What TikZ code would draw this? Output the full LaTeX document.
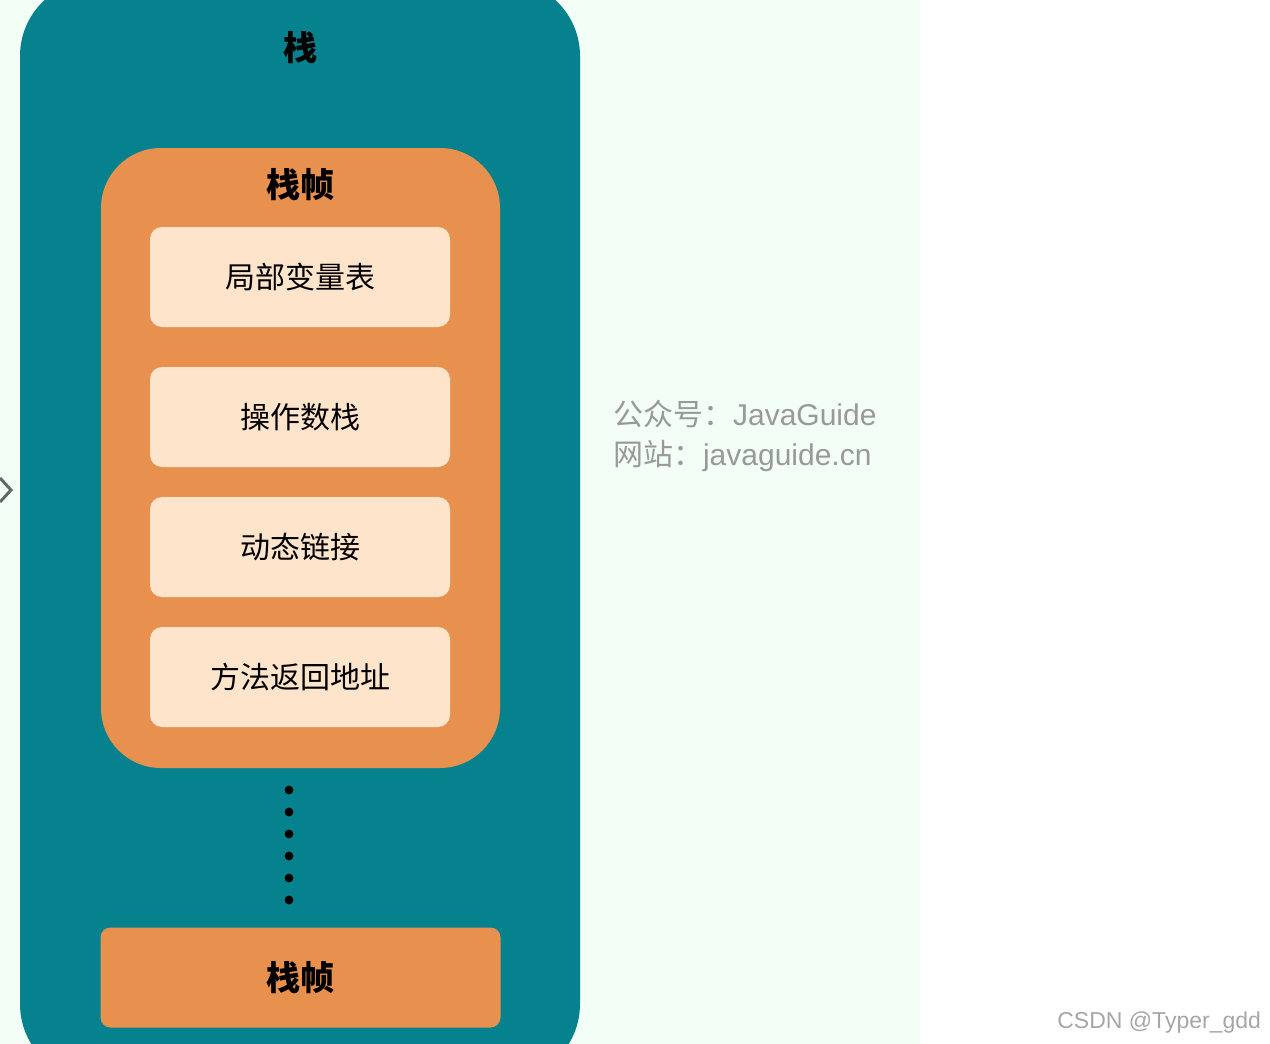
\documentclass[tikz,border=0pt]{standalone}
\usepackage{fontspec}
\setmainfont{Liberation Sans}
\newfontfamily\cjk{Noto Sans CJK SC}
\definecolor{stackteal}{HTML}{05828E}
\definecolor{frameorange}{HTML}{E8914F}
\definecolor{slotcream}{HTML}{FFE4CC}
\definecolor{mintbg}{HTML}{F3FFF6}
\begin{document}
\begin{tikzpicture}[
    x=0.5pt,y=-0.5pt,
    % styles
    slot/.style={fill=slotcream,rounded corners=6pt,minimum width=150pt,minimum height=50pt,inner sep=0pt,font=\cjk\fontsize{15}{15}\selectfont},
    frame title/.style={font=\cjk\bfseries\fontsize{17}{17}\selectfont},
    watermark/.style={text=black!40,font=\fontsize{15}{20}\selectfont,align=left,anchor=west}
]
    \useasboundingbox (0,0) rectangle (1270,1044);
    \fill[mintbg] (0,0) rectangle (920,1044);

    % stack
    \begin{scope}
        \clip (0,0) rectangle (1270,1044);
        \fill[stackteal,rounded corners=38pt] (20,-20) rectangle (580,1080);
    \end{scope}
    \node[frame title] (stack) at (300,48) {栈};

    % frame
    \fill[frameorange,rounded corners=30pt] (101,148) rectangle (500,768);
    \node[frame title] (frame) at (300,185) {栈帧};

    % slots
    \foreach \name/\y/\txt in {locals/277/局部变量表, operand/417/操作数栈, dynlink/547/动态链接, retaddr/677/方法返回地址}
        \node[slot] (\name) at (300,\y) {\txt};

    % dots
    \foreach \y in {790,812,...,900}
        \fill (289,\y) circle (2.2pt);

    % bottom frame
    \node[fill=frameorange,rounded corners=5pt,minimum width=200pt,minimum height=50pt,inner sep=0pt,frame title] (lastframe) at (300.5,977.5) {栈帧};

    % side chevron
    \draw[black!60,line width=1.5pt] (0,478) -- (11,490) -- (0,502);

    % watermark
    \node[watermark] (wm) at (606,436) {{\cjk 公众号：}JavaGuide\\{\cjk 网站：}javaguide.cn};
    \node[text=black!35,font=\fontsize{11.5}{12}\selectfont,anchor=east] (csdn) at (1268,1023) {CSDN @Typer\_gdd};
\end{tikzpicture}
\end{document}
